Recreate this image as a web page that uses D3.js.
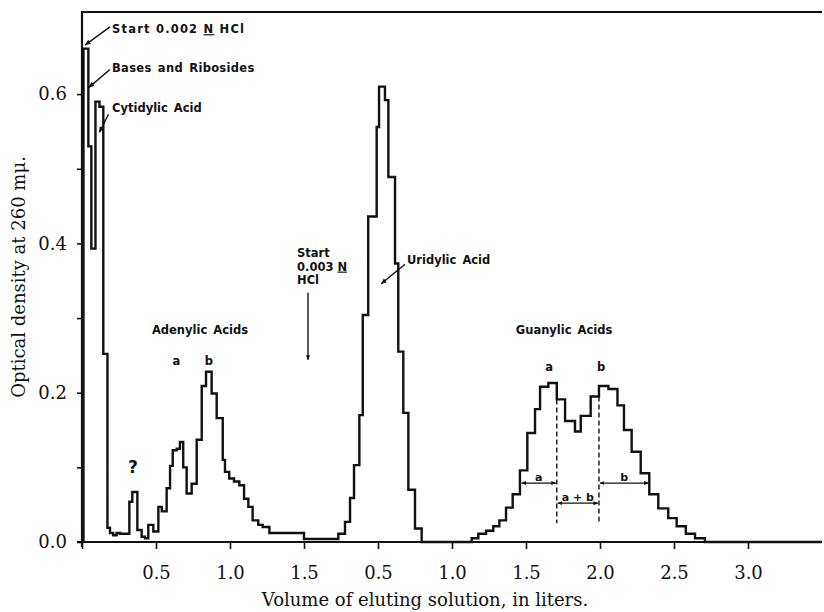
<!DOCTYPE html>
<html>
<head>
<meta charset="utf-8">
<script src="https://cdn.jsdelivr.net/npm/d3@7"></script>
<style>
  html, body { margin: 0; padding: 0; background: #fff; }
  svg { display: block; }
</style>
</head>
<body>
<svg id="chart" width="824" height="612"></svg>
<script>
// Fractions eluted with 0.002 N HCl: start of each fraction (liters) and optical density at 260 mμ
const acid002Volume = [0.010, 0.043, 0.063, 0.091, 0.118, 0.144, 0.172, 0.189, 0.211, 0.234,
  0.257, 0.320, 0.340, 0.374, 0.403, 0.426, 0.448, 0.482, 0.516, 0.539,
  0.572, 0.595, 0.613, 0.640, 0.662, 0.684, 0.707, 0.741, 0.775, 0.809,
  0.838, 0.876, 0.910, 0.951, 0.966, 0.995, 1.027, 1.063, 1.095, 1.124,
  1.153, 1.191, 1.221, 1.266];
const acid002Density = [0.661, 0.530, 0.393, 0.590, 0.583, 0.252, 0.019, 0.012, 0.009, 0.012,
  0.011, 0.054, 0.067, 0.016, 0.007, 0.005, 0.023, 0.014, 0.047, 0.041,
  0.072, 0.102, 0.123, 0.125, 0.134, 0.100, 0.065, 0.078, 0.137, 0.209,
  0.228, 0.199, 0.166, 0.110, 0.094, 0.085, 0.081, 0.076, 0.058, 0.047,
  0.029, 0.023, 0.020, 0.012];
const acid002Total = 1.5;

// Fractions eluted with 0.003 N HCl (volume counted from the change of eluant)
const acid003Volume = [0.000, 0.232, 0.277, 0.311, 0.338, 0.374, 0.397, 0.434, 0.491, 0.507,
  0.547, 0.570, 0.615, 0.637, 0.671, 0.705, 0.750, 0.795, 1.133, 1.178,
  1.230, 1.279, 1.320, 1.365, 1.410, 1.459, 1.509, 1.561, 1.595, 1.651,
  1.708, 1.764, 1.831, 1.870, 1.937, 1.993, 2.057, 2.118, 2.162, 2.214,
  2.275, 2.333, 2.394, 2.461, 2.518, 2.580, 2.642, 2.709];
const acid003Density = [0.004, 0.011, 0.027, 0.059, 0.103, 0.170, 0.304, 0.436, 0.556, 0.610,
  0.592, 0.489, 0.373, 0.255, 0.173, 0.070, 0.018, 0.000, 0.005, 0.011,
  0.015, 0.021, 0.029, 0.046, 0.064, 0.096, 0.146, 0.178, 0.208, 0.213,
  0.191, 0.162, 0.148, 0.169, 0.195, 0.209, 0.205, 0.183, 0.150, 0.121,
  0.092, 0.064, 0.045, 0.032, 0.021, 0.011, 0.005, 0.000];
const acid003Total = 3.5;

// Axis ticks (the volume scale restarts when the eluant changes)
const firstTicks = [0.5, 1.0, 1.5];
const secondTicks = [0.5, 1.0, 1.5, 2.0, 2.5, 3.0];
const densityTicks = [0, 0.1, 0.2, 0.3, 0.4, 0.5, 0.6];
const densityLabels = [0, 0.2, 0.4, 0.6];

// Guanylic acid a / b division (0.003 N volumes)
const guanylicCuts = [1.708, 1.993];
const guanylicCutTops = [0.191, 0.195];
const guanylicSpanNames = ["a", "a + b", "b"];
const guanylicSpanFrom = [1.464, 1.708, 1.993];
const guanylicSpanTo = [1.708, 1.993, 2.333];
const guanylicSpanLevel = [0.079, 0.052, 0.079];

const svg = d3.select("#chart");
const serif = "'DejaVu Serif', 'Liberation Serif', serif";
const sans = "'DejaVu Sans', 'Liberation Sans', sans-serif";
const ink = "#111";

const x = d3.scaleLinear().domain([0, acid002Total + acid003Total]).range([82, 822]);
const y = d3.scaleLinear().domain([0, 0.71]).range([542, 12]);

// arrowheads
const defs = svg.append("defs");
defs.append("marker").attr("id", "head")
  .attr("viewBox", "0 0 10 10").attr("refX", 9).attr("refY", 5)
  .attr("markerWidth", 6).attr("markerHeight", 6).attr("markerUnits", "userSpaceOnUse")
  .attr("orient", "auto-start-reverse")
  .append("path").attr("d", "M0,1 L10,5 L0,9 Z").attr("fill", ink);
defs.append("marker").attr("id", "tip")
  .attr("viewBox", "0 0 10 10").attr("refX", 9).attr("refY", 5)
  .attr("markerWidth", 5).attr("markerHeight", 5).attr("markerUnits", "userSpaceOnUse")
  .attr("orient", "auto-start-reverse")
  .append("path").attr("d", "M0,1 L10,5 L0,9 Z").attr("fill", ink);

// ---- axes ----
const xTicks = firstTicks.concat(secondTicks.map(v => v + acid002Total));
const xAxis = d3.axisBottom(x)
  .tickValues([0].concat(xTicks))
  .tickSize(7).tickSizeOuter(0).tickPadding(17)
  .tickFormat(v => v === 0 ? "" : d3.format(".1f")(v > acid002Total ? v - acid002Total : v));
const gx = svg.append("g").attr("transform", `translate(0,${y(0)})`).call(xAxis);
gx.select(".domain").remove();
gx.selectAll(".tick line").attr("stroke", ink).attr("stroke-width", 1.6);
gx.selectAll(".tick text").attr("fill", ink).attr("font-family", serif).attr("font-size", 18);

const yAxis = d3.axisLeft(y)
  .tickValues(densityTicks)
  .tickSize(5).tickSizeOuter(0).tickPadding(10)
  .tickFormat(v => densityLabels.some(l => Math.abs(l - v) < 1e-9) ? d3.format(".1f")(v) : "");
const gy = svg.append("g").attr("transform", `translate(${x(0)},0)`).call(yAxis);
gy.select(".domain").remove();
gy.selectAll(".tick line").attr("stroke", ink).attr("stroke-width", 1.6);
gy.selectAll(".tick text").attr("fill", ink).attr("font-family", serif).attr("font-size", 18);

// frame: left axis, top rule, baseline
svg.append("line").attr("x1", x(0)).attr("x2", x(0)).attr("y1", y.range()[1]).attr("y2", y(0) + 5)
  .attr("stroke", ink).attr("stroke-width", 2.2);
svg.append("line").attr("x1", x(0) - 1).attr("x2", x.range()[1]).attr("y1", y.range()[1]).attr("y2", y.range()[1])
  .attr("stroke", ink).attr("stroke-width", 2.2);
svg.append("line").attr("x1", x(0) - 5).attr("x2", x.range()[1]).attr("y1", y(0)).attr("y2", y(0))
  .attr("stroke", ink).attr("stroke-width", 2.2);

// axis titles
svg.append("text").attr("x", 425).attr("y", 606).attr("text-anchor", "middle")
  .attr("font-family", serif).attr("font-size", 18).attr("fill", ink)
  .text("Volume of eluting solution, in liters.");
svg.append("text").attr("transform", `translate(25,${(y(0) + y.range()[1]) / 2}) rotate(-90)`)
  .attr("text-anchor", "middle")
  .attr("font-family", serif).attr("font-size", 18).attr("fill", ink)
  .text("Optical density at 260 mμ.");

// ---- elution curve (one step per fraction) ----
const points = [[acid002Volume[0], 0]];
acid002Volume.forEach((v, i) => points.push([v, acid002Density[i]]));
acid003Volume.forEach((v, i) => points.push([v + acid002Total, acid003Density[i]]));
points.push([acid002Total + acid003Total, 0]);

const line = d3.line().x(d => x(d[0])).y(d => y(d[1])).curve(d3.curveStepAfter);
svg.append("path").datum(points).attr("d", line)
  .attr("fill", "none").attr("stroke", ink).attr("stroke-width", 2.4)
  .attr("stroke-linejoin", "miter");

// ---- guanylic acid a / b division ----
const g2 = v => x(v + acid002Total);
guanylicCuts.forEach((c, i) => {
  svg.append("line").attr("x1", g2(c)).attr("x2", g2(c))
    .attr("y1", y(guanylicCutTops[i])).attr("y2", y(0.025))
    .attr("stroke", ink).attr("stroke-width", 1.4).attr("stroke-dasharray", "5,3");
});
guanylicSpanNames.forEach((name, i) => {
  svg.append("line").attr("x1", g2(guanylicSpanFrom[i]) + 1).attr("x2", g2(guanylicSpanTo[i]) - 1)
    .attr("y1", y(guanylicSpanLevel[i])).attr("y2", y(guanylicSpanLevel[i]))
    .attr("stroke", ink).attr("stroke-width", 1.3)
    .attr("marker-start", "url(#tip)").attr("marker-end", "url(#tip)");
  svg.append("text")
    .attr("x", (g2(guanylicSpanFrom[i]) + g2(guanylicSpanTo[i])) / 2)
    .attr("y", y(guanylicSpanLevel[i]) - 2)
    .attr("text-anchor", "middle")
    .attr("font-family", sans).attr("font-weight", "bold").attr("font-size", 11).attr("fill", ink)
    .text(name);
});

// ---- labels ----
function label(t, d, opts = {}) {
  return svg.append("text")
    .attr("x", x(t)).attr("y", y(d))
    .attr("dy", "0.35em")
    .attr("text-anchor", opts.anchor || "start")
    .attr("font-family", sans).attr("font-weight", "bold")
    .attr("font-size", opts.size || 11.5).attr("fill", ink)
    .attr("letter-spacing", opts.ls || 0)
    .attr("word-spacing", opts.ws == null ? 2 : opts.ws);
}
function normality(el, before, after) {
  el.append("tspan").text(before);
  el.append("tspan").attr("text-decoration", "underline").text("N");
  el.append("tspan").text(after);
}
function arrow(t1, d1, t2, d2, marker = "head") {
  svg.append("line").attr("x1", x(t1)).attr("y1", y(d1)).attr("x2", x(t2)).attr("y2", y(d2))
    .attr("stroke", ink).attr("stroke-width", 1.4).attr("marker-end", `url(#${marker})`);
}

normality(label(0.203, 0.687, { ls: 1.2, ws: 0 }), "Start 0.002 ", " HCl");
arrow(0.189, 0.690, 0.022, 0.666);
label(0.203, 0.635, { ls: 0.3 }).text("Bases and Ribosides");
arrow(0.189, 0.633, 0.047, 0.609);
label(0.203, 0.581).text("Cytidylic Acid");
arrow(0.179, 0.573, 0.118, 0.549);

label(0.797, 0.284, { anchor: "middle" }).text("Adenylic Acids");
label(0.637, 0.243, { anchor: "middle" }).text("a");
label(0.858, 0.243, { anchor: "middle" }).text("b");
label(0.345, 0.100, { anchor: "middle", size: 17 }).text("?");

label(1.453, 0.387, { ws: 0 }).text("Start");
normality(label(1.453, 0.369, { ws: 0 }), "0.003 ", "");
label(1.453, 0.351, { ws: 0 }).text("HCl");
arrow(1.527, 0.334, 1.527, 0.244, "tip");

label(acid002Total + 0.696, 0.378).text("Uridylic Acid");
arrow(acid002Total + 0.682, 0.372, acid002Total + 0.522, 0.346);

label(acid002Total + 1.757, 0.284, { anchor: "middle" }).text("Guanylic Acids");
label(acid002Total + 1.657, 0.234, { anchor: "middle" }).text("a");
label(acid002Total + 2.007, 0.234, { anchor: "middle" }).text("b");
</script>
</body>
</html>
